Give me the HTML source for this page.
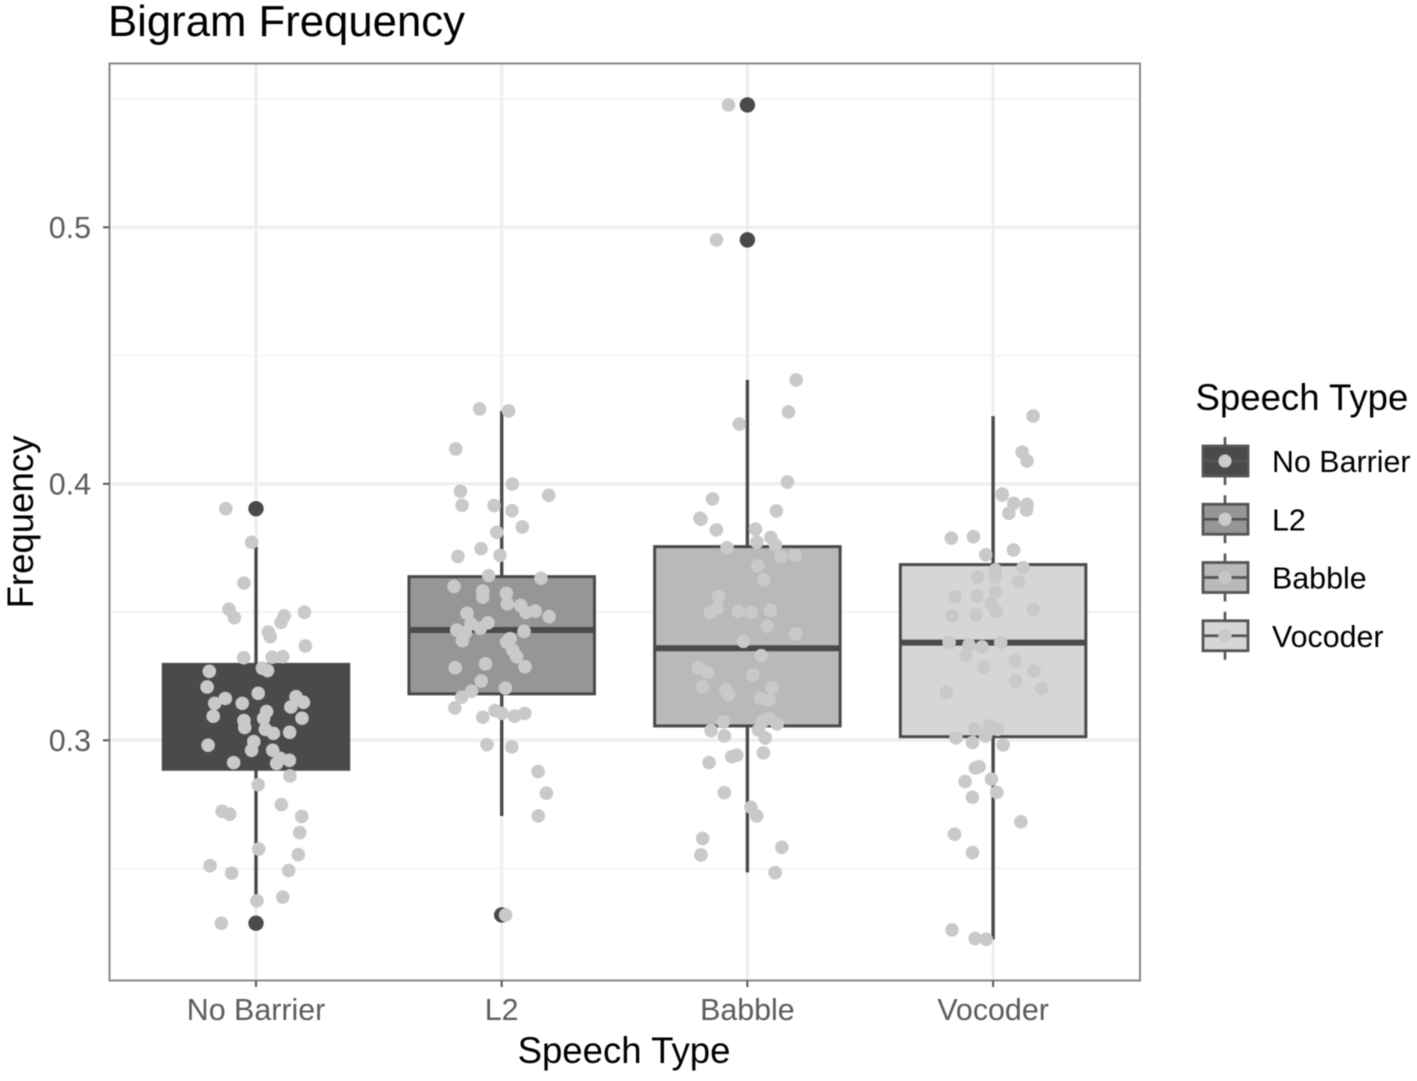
<!DOCTYPE html>
<html lang="en">
<head>
<meta charset="utf-8">
<title>Bigram Frequency</title>
<style>
  html, body { margin: 0; padding: 0; background: #fff; }
  body { width: 1417px; height: 1081px; overflow: hidden; }
  svg { display: block; filter: blur(0.5px); font-family: "Liberation Sans", sans-serif; }
</style>
</head>
<body>
<svg id="chart" xmlns="http://www.w3.org/2000/svg" width="1417" height="1081" viewBox="0 0 1417 1081">
  <rect x="0" y="0" width="1417" height="1081" fill="#fff"/>
  <g id="grid"></g>
  <g id="boxes"></g>
  <g id="points"></g>
  <rect x="109.5" y="63.5" width="1030.5" height="917" fill="none" stroke="#7d7d7d" stroke-width="1.8"/>
  <g id="axes"></g>
  <text x="108" y="36" font-size="43.7" fill="#000">Bigram Frequency</text>
  <text x="624" y="1063" font-size="36.6" fill="#000" text-anchor="middle">Speech Type</text>
  <text transform="translate(33 522) rotate(-90)" font-size="36.6" fill="#000" text-anchor="middle">Frequency</text>
  <text x="1195.5" y="410" font-size="36.6" fill="#000">Speech Type</text>
  <g id="legend"></g>
</svg>
<script>
const categories = ["No Barrier", "L2", "Babble", "Vocoder"];
const yTickLabels = ["0.3", "0.4", "0.5"];
const yMajorTicks = [0.3, 0.4, 0.5];
const yMinorTicks = [0.25, 0.35, 0.45, 0.55];

const q1Values = [0.2887, 0.3181, 0.3056, 0.3014];
const medianValues = [0.3045, 0.3430, 0.3359, 0.3381];
const q3Values = [0.3296, 0.3638, 0.3755, 0.3685];
const whiskerLowValues = [0.2397, 0.2705, 0.2485, 0.2224];
const whiskerHighValues = [0.3755, 0.4284, 0.4405, 0.4264];
const noBarrierOutliers = [0.3903, 0.2287];
const l2Outliers = [0.2319];
const babbleOutliers = [0.5477, 0.4951];
const vocoderOutliers = [];

const noBarrierValues = [0.3903,0.3772,0.3613,0.3511,0.3478,0.3499,0.3485,0.3460,0.3422,0.3404,0.3368,0.3322,0.3324,0.3326,0.3281,0.3272,0.3269,0.3208,0.3183,0.3163,0.3144,0.3144,0.3170,0.3148,0.3130,0.3112,0.3094,0.3085,0.3086,0.3077,0.3050,0.3043,0.3027,0.3031,0.2981,0.2995,0.2961,0.2961,0.2913,0.2930,0.2922,0.2910,0.2861,0.2827,0.2749,0.2723,0.2712,0.2703,0.2640,0.2576,0.2554,0.2511,0.2482,0.2492,0.2389,0.2374,0.2287];
const noBarrierJitter = [-0.123,-0.018,-0.049,-0.110,-0.088,0.197,0.115,0.102,0.050,0.058,0.201,-0.050,0.066,0.109,0.026,0.047,-0.190,-0.199,0.009,-0.125,-0.168,-0.056,0.163,0.193,0.142,0.043,-0.174,0.031,0.187,-0.049,-0.046,0.038,0.071,0.137,-0.195,-0.009,-0.018,0.068,-0.091,0.098,0.136,0.084,0.138,0.009,0.103,-0.138,-0.107,0.186,0.178,0.011,0.172,-0.187,-0.099,0.133,0.109,0.004,-0.141];

const l2Values = [0.4292,0.4284,0.4136,0.3971,0.3999,0.3916,0.3915,0.3955,0.3895,0.3832,0.3811,0.3747,0.3717,0.3721,0.3642,0.3632,0.3600,0.3582,0.3558,0.3573,0.3532,0.3526,0.3499,0.3504,0.3482,0.3495,0.3458,0.3454,0.3437,0.3430,0.3420,0.3389,0.3425,0.3396,0.3383,0.3352,0.3326,0.3287,0.3283,0.3298,0.3231,0.3203,0.3191,0.3168,0.3126,0.3116,0.3105,0.3105,0.3094,0.3090,0.2983,0.2974,0.2878,0.2794,0.2705,0.2319];
const l2Jitter = [-0.090,0.028,-0.187,-0.168,0.043,-0.161,-0.031,0.191,0.042,0.084,-0.020,-0.084,-0.178,-0.007,-0.053,0.160,-0.194,-0.077,-0.077,0.019,0.023,0.077,0.099,0.137,0.193,-0.141,-0.056,-0.125,-0.087,-0.183,-0.148,-0.160,0.091,0.034,0.020,0.045,0.061,0.095,-0.189,-0.066,-0.083,0.015,-0.123,-0.163,-0.191,-0.027,0.001,0.094,0.052,-0.077,-0.060,0.041,0.148,0.182,0.149,0.016];

const babbleValues = [0.5477,0.4951,0.4405,0.4280,0.4233,0.4007,0.3941,0.3894,0.3862,0.3866,0.3820,0.3823,0.3773,0.3791,0.3762,0.3751,0.3716,0.3721,0.3680,0.3626,0.3560,0.3515,0.3498,0.3503,0.3498,0.3506,0.3445,0.3415,0.3386,0.3330,0.3282,0.3264,0.3255,0.3209,0.3196,0.3179,0.3205,0.3163,0.3157,0.3072,0.3085,0.3073,0.3064,0.3040,0.3038,0.3017,0.3009,0.2951,0.2942,0.2936,0.2913,0.2796,0.2739,0.2705,0.2617,0.2583,0.2553,0.2484];
const babbleJitter = [-0.077,-0.126,0.199,0.167,-0.033,0.163,-0.142,0.118,-0.189,-0.193,-0.126,0.033,0.039,0.095,0.114,-0.083,0.136,0.194,0.042,0.066,-0.118,-0.122,-0.151,-0.037,0.015,0.094,0.081,0.197,-0.016,0.056,-0.199,-0.163,0.022,-0.183,-0.088,-0.077,0.100,0.054,0.088,-0.098,0.090,0.062,0.121,0.045,-0.148,-0.094,0.073,0.065,-0.043,-0.064,-0.156,-0.094,0.014,0.038,-0.182,0.140,-0.189,0.113];

const vocoderValues = [0.4264,0.4124,0.4089,0.3956,0.3960,0.3924,0.3920,0.3898,0.3885,0.3788,0.3794,0.3742,0.3723,0.3664,0.3673,0.3636,0.3636,0.3617,0.3578,0.3559,0.3563,0.3532,0.3504,0.3510,0.3485,0.3489,0.3382,0.3372,0.3364,0.3381,0.3330,0.3309,0.3286,0.3270,0.3231,0.3203,0.3186,0.3044,0.3056,0.3043,0.3017,0.3009,0.2991,0.2982,0.2897,0.2892,0.2849,0.2839,0.2797,0.2778,0.2682,0.2634,0.2562,0.2261,0.2227,0.2224];
const vocoderJitter = [0.163,0.118,0.138,0.037,0.037,0.084,0.138,0.136,0.064,-0.170,-0.080,0.083,-0.030,0.009,0.122,-0.062,0.008,0.104,0.011,-0.155,-0.066,-0.007,0.012,0.164,-0.167,-0.069,-0.179,-0.098,-0.045,0.031,-0.111,0.090,-0.038,0.167,0.092,0.198,-0.190,-0.075,-0.014,0.018,-0.031,-0.151,-0.084,0.041,-0.057,-0.072,-0.007,-0.114,0.015,-0.084,0.113,-0.157,-0.084,-0.167,-0.073,-0.028];

const fillColors = ["#4a4a4a", "#969696", "#b9b9b9", "#d6d6d6"];
const legendDotColors = ["#cbcbcb", "#cbcbcb", "#c6c6c6", "#c9c9c9"];

const SVG_NS = "http://www.w3.org/2000/svg";
const STROKE = "#4a4a4a";
const POINT = "#c9c9c9";
const BOX_WIDTH = 0.755;

function xScale(position) { return 256 + 245.7 * position; }
function yScale(value) { return 740.3 - (value - 0.3) * 2565; }

function make(tag, parent, attrs, text) {
  const el = document.createElementNS(SVG_NS, tag);
  Object.keys(attrs).forEach(function (k) { el.setAttribute(k, attrs[k]); });
  if (text !== undefined) el.textContent = text;
  parent.appendChild(el);
  return el;
}
function slug(s) { return s.toLowerCase().replace(/\s+/g, "-"); }

const grid = document.getElementById("grid");
const axes = document.getElementById("axes");
const boxes = document.getElementById("boxes");
const pointsLayer = document.getElementById("points");
const legend = document.getElementById("legend");

yMinorTicks.forEach(function (v) {
  const line = make("line", grid, { x1: 110, x2: 1140, y1: yScale(v), y2: yScale(v), stroke: "#f1f1f1", "stroke-width": 1.6 });
  
  
});
yMajorTicks.forEach(function (v, i) {
  const line = make("line", grid, { x1: 110, x2: 1140, y1: yScale(v), y2: yScale(v), stroke: "#eeeeee", "stroke-width": 3 });
  
  
  const tick = make("line", axes, { x1: 103, x2: 109, y1: yScale(v), y2: yScale(v), stroke: "#555", "stroke-width": 2 });
  
  
  const label = make("text", axes, { x: 91, y: yScale(v) + 10.5, "font-size": 30.4, fill: "#5c5c5c", "text-anchor": "end" }, yTickLabels[i]);
  
  
});

const seriesValues = [noBarrierValues, l2Values, babbleValues, vocoderValues];
const seriesJitter = [noBarrierJitter, l2Jitter, babbleJitter, vocoderJitter];
const seriesOutliers = [noBarrierOutliers, l2Outliers, babbleOutliers, vocoderOutliers];

categories.forEach(function (cat, i) {
  const cx = xScale(i);
  const gridLine = make("line", grid, { x1: cx, x2: cx, y1: 64, y2: 980, stroke: "#eeeeee", "stroke-width": 3 });
  
  
  const tick = make("line", axes, { x1: cx, x2: cx, y1: 981, y2: 987, stroke: "#555", "stroke-width": 2 });
  
  
  const label = make("text", axes, { x: cx, y: 1020, "font-size": 30.4, fill: "#5c5c5c", "text-anchor": "middle" }, cat);
  
  

  const group = make("g", boxes, {});
  
  

  const whiskerHigh = make("line", group, { x1: cx, x2: cx, y1: yScale(whiskerHighValues[i]), y2: yScale(q3Values[i]), stroke: STROKE, "stroke-width": 3.4 });
  
  
  const whiskerLow = make("line", group, { x1: cx, x2: cx, y1: yScale(q1Values[i]), y2: yScale(whiskerLowValues[i]), stroke: STROKE, "stroke-width": 3.4 });
  
  

  const halfWidth = 245.7 * BOX_WIDTH / 2;
  const box = make("rect", group, { x: cx - halfWidth, y: yScale(q3Values[i]), width: halfWidth * 2, height: yScale(q1Values[i]) - yScale(q3Values[i]), fill: fillColors[i], stroke: STROKE, "stroke-width": 3 });
  
  
  const median = make("line", group, { x1: cx - halfWidth, x2: cx + halfWidth, y1: yScale(medianValues[i]), y2: yScale(medianValues[i]), stroke: STROKE, "stroke-width": 6 });
  
  

  seriesOutliers[i].forEach(function (v) {
    const dot = make("circle", group, { cx: cx, cy: yScale(v), r: 7.7, fill: STROKE });
    
    
  });

  seriesValues[i].forEach(function (v, k) {
    const dot = make("circle", pointsLayer, { cx: xScale(i + seriesJitter[i][k]), cy: yScale(v), r: 6.8, fill: POINT });
    
    
  });

  const keyY = 461 + 58.25 * i;
  const key = make("g", legend, {});
  
  
  make("line", key, { x1: 1225, x2: 1225, y1: keyY - 24, y2: keyY + 24, stroke: "#555", "stroke-width": 2.6 });
  make("rect", key, { x: 1203, y: keyY - 15, width: 45, height: 30, fill: fillColors[i], stroke: "#555", "stroke-width": 2.8 });
  make("line", key, { x1: 1203, x2: 1247, y1: keyY, y2: keyY, stroke: "#555", "stroke-width": 2.8 });
  make("circle", key, { cx: 1225, cy: keyY, r: 6.6, fill: legendDotColors[i] });
  make("text", key, { x: 1272, y: keyY + 11.2, "font-size": 30.4, fill: "#000" }, cat);
});
</script>
</body>
</html>
